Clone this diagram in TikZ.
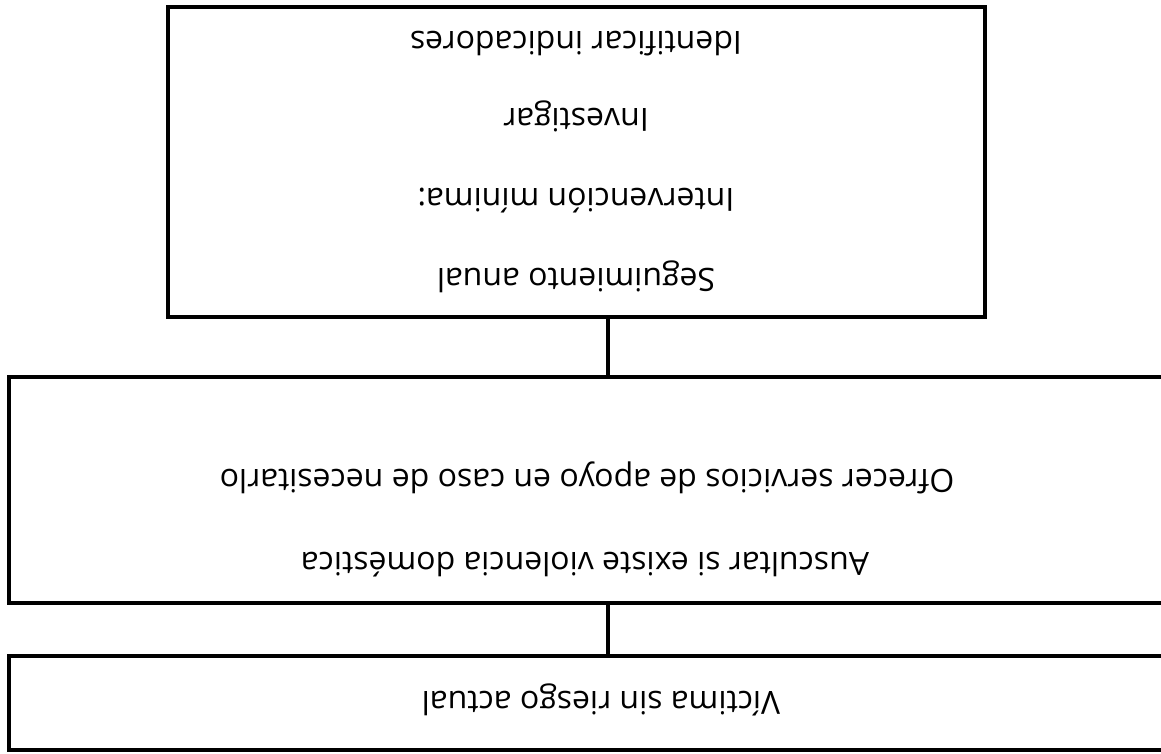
\documentclass[tikz,border=0pt]{standalone}
\usepackage{fontspec}
\setmainfont{Open Sans}
\begin{document}
\begin{tikzpicture}[x=1pt,y=1pt,
  boxline/.style={line width=4pt, line join=miter},
  conn/.style={line width=4pt},
  lbl/.style={rotate=180, inner sep=0pt, font=\fontsize{32}{36}\selectfont, text height=23pt, text depth=0pt, anchor=center}]
\useasboundingbox (0,0) rectangle (1161,-753);
\clip (0,0) rectangle (1161,-753);
\draw[boxline] (168,-7) rectangle (985,-317);
\draw[boxline] (9,-377) rectangle (1207,-603);
\draw[boxline] (9,-656) rectangle (1207,-750);
\coordinate (topb) at (608,-317);
\coordinate (midt) at (608,-377);
\coordinate (midb) at (608,-603);
\coordinate (bott) at (608,-656);
\draw[conn] (topb) -- (midt);
\draw[conn] (midb) -- (bott);
\node[lbl] (t1) at (576,-43) {Identificar indicadores};
\node[lbl] (t2) at (576,-120) {Investigar};
\node[lbl] (t3) at (576,-200) {Intervención mínima:};
\node[lbl] (t4) at (576,-280) {Seguimiento anual};
\node[lbl] (m1) at (587,-481) {Ofrecer servicios de apoyo en caso de necesitarlo};
\node[lbl] (m2) at (585,-564) {Auscultar si existe violencia doméstica};
\node[lbl] (b1) at (601,-703) {Víctima sin riesgo actual};
\end{tikzpicture}
\end{document}
